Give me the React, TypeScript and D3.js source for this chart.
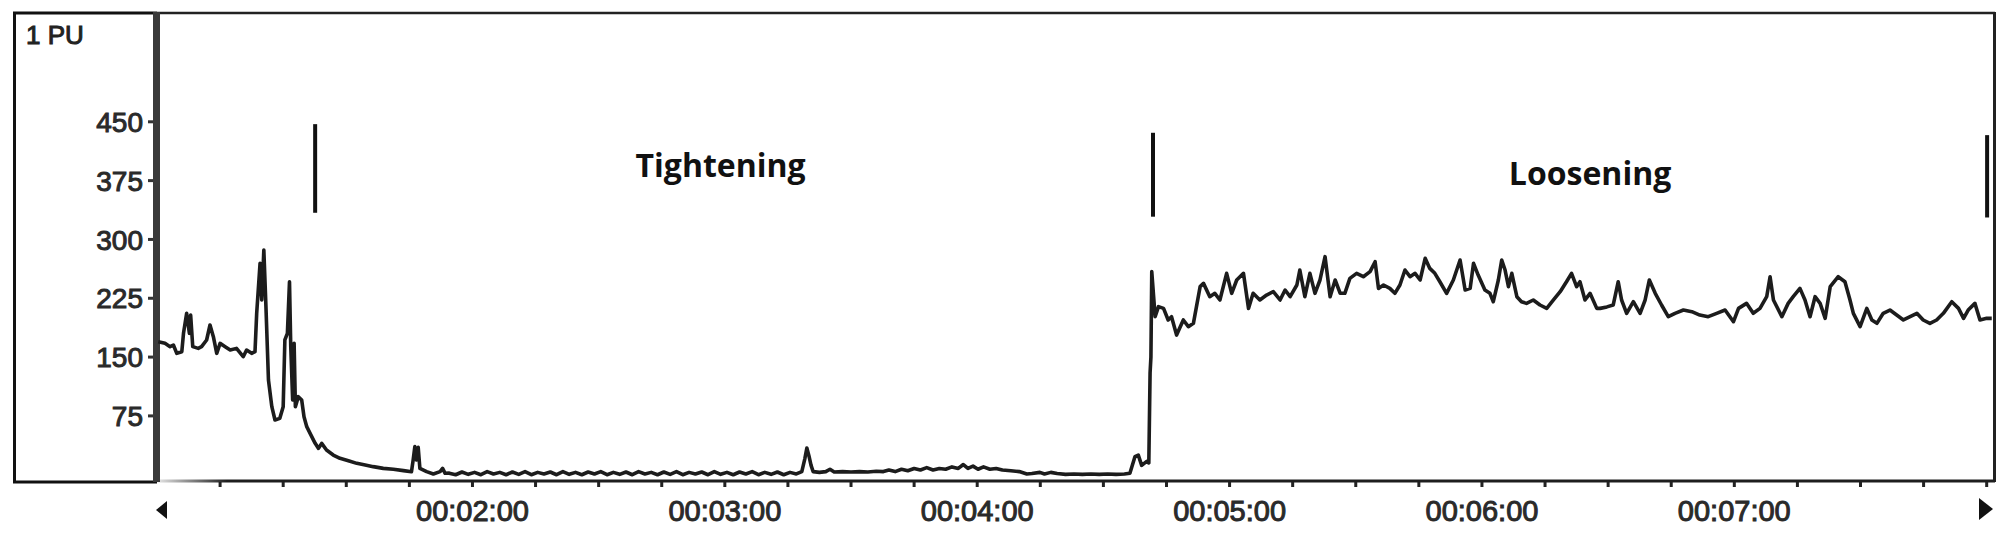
import React from 'react';
import * as d3 from 'd3';

// ---- data (time in seconds, value in PU) ----
const unitLabel = '1 PU';
const yTickValues = [75, 150, 225, 300, 375, 450];
const xLabelSeconds = [120, 180, 240, 300, 360, 420];
const xMinorTickSeconds = d3.range(60, 481, 15);

const restReadings: [number, number][] = [
  [45.3, 169.6], [46.9, 167.5], [48.1, 163.3], [48.9, 165.4], [49.7, 154.8], [50.9, 156.9],
  [51.3, 180.3], [52.05, 205.8], [52.7, 180.3], [53.0, 203.6], [53.5, 163.3], [54.8, 161.1],
  [55.6, 163.3], [56.8, 171.8], [57.6, 190.9], [58.4, 176], [59.2, 154.8], [60.0, 167.5],
  [61.2, 163.3], [62.4, 159], [63.9, 161.1], [65.5, 150.5], [66.3, 159], [67.5, 154.8],
  [68.3, 156.9], [68.7, 205.8], [69.5, 269.5], [69.9, 222.8], [70.4, 286.5], [70.9, 214.3],
  [71.5, 120.8], [72.3, 86.8], [73.05, 69.8], [74.2, 71.9], [75.0, 86.8], [75.4, 171.8],
  [76.0, 180.3], [76.5, 246.1], [76.8, 163.3], [77.25, 95.3], [77.6, 167.5], [77.9, 86.8],
  [78.6, 99.5], [79.4, 95.3], [79.95, 74], [80.6, 61.3], [81.4, 52.8], [82.6, 40],
  [83.4, 33.6], [84.15, 40], [85.3, 31.5], [86.9, 25.1], [88.5, 20.9], [90.5, 17.9],
  [92.5, 14.5], [94.5, 12.4], [96.4, 10.3], [98.8, 8.1], [101.2, 6.9], [103.6, 5.2],
  [105.5, 3.9], [105.9, 18.8], [106.3, 35.8], [106.7, 18.8], [107.1, 35], [107.5, 8.1],
  [109.1, 3.9], [110.7, 0.9], [112.3, 3.9], [112.9, 8.1], [113.5, 1.8]
];

const tighteningReadings: [number, number][] = [
  [114.5, 2], [116, 0], [117.5, 3.5], [119, 0.5], [120.5, 3], [122, 0], [123.5, 4], [125, 1],
  [126.5, 3], [128, 0], [129.5, 3.5], [131, 0.5], [132.5, 4], [134, 0], [135.5, 3], [137, 1],
  [138.5, 3.5], [140, 0], [141.5, 4], [143, 0.5], [144.5, 3], [146, 0], [147.5, 3.5], [149, 1],
  [150.5, 4], [152, 0], [153.5, 3], [155, 0.5], [156.5, 3.5], [158, 0], [159.5, 4], [161, 1],
  [162.5, 3], [164, 0], [165.5, 3.5], [167, 0.5], [168.5, 4], [170, 0], [171.5, 3], [173, 1],
  [174.5, 3.5], [176, 0], [177.5, 4], [179, 0.5], [180.5, 3], [182, 0], [183.5, 3.5], [185, 1],
  [186.5, 4], [188, 0], [189.5, 3], [191, 0.5], [192.5, 3.5], [194, 0], [195.5, 3], [197, 1],
  [198.3, 4], [199.0, 20], [199.5, 34], [200.0, 24], [200.5, 12], [201.0, 4], [202.5, 3],
  [204, 4], [205, 7], [206, 3.5], [208, 4], [210, 3.5], [212, 4], [214, 3.5], [216, 4.5],
  [217.7, 4], [219, 6], [220.5, 4], [222, 7], [223.5, 5], [225, 8], [226.5, 6], [228, 9],
  [229.5, 6], [231, 8], [232.5, 7], [234, 10], [235.5, 8], [236.7, 13], [237.8, 8], [239, 11],
  [240.2, 7], [241.5, 10], [243, 7], [244.5, 8], [246, 6], [248, 5], [250, 4], [251.8, 1],
  [253, 1.5], [254.9, 3], [256, 1], [257.5, 3], [259, 1.5], [261, 0.5], [263, 1], [265, 0.5],
  [267, 1], [269, 0.5], [271, 1], [273, 0.5], [275, 1], [276.3, 2], [277.5, 23], [278.3, 25],
  [279.1, 12], [280.3, 17], [280.8, 15], [281.1, 130], [281.3, 150], [281.5, 259]
];

const looseningReadings: [number, number][] = [
  [282.3, 201.5], [283.1, 214.3], [284.3, 212.1], [285.4, 197.3], [286.2, 201.5], [287.4, 178.1],
  [289.0, 197.3], [290.2, 188.8], [291.4, 193], [293.0, 239.8], [293.8, 244], [295.3, 227],
  [296.5, 231.3], [297.7, 222.8], [299.3, 256.8], [300.5, 231.3], [301.7, 248.3], [303.3, 256.8],
  [304.5, 212.1], [305.6, 231.3], [307.2, 222.8], [308.8, 229.1], [310.4, 233.4], [312.0, 222.8],
  [313.2, 235.5], [314.4, 227], [316.0, 241.9], [316.7, 261], [317.9, 227], [319.1, 256.8],
  [320.3, 231.3], [321.5, 248.3], [322.7, 278], [323.9, 227], [325.1, 248.3], [326.3, 231.3],
  [327.4, 231.3], [328.6, 250.4], [330.2, 256.8], [331.8, 252.5], [333.4, 258.9], [334.6, 271.6],
  [335.4, 237.6], [336.6, 241.9], [338.1, 237.6], [339.3, 231.3], [340.5, 241.9], [341.7, 261],
  [342.9, 252.5], [344.1, 256.8], [345.3, 248.3], [346.5, 275.9], [347.6, 263.1], [348.8, 256.8],
  [350.0, 246.1], [351.6, 231.3], [353.2, 248.3], [354.8, 273.8], [356.0, 235.5], [357.2, 237.6],
  [358.0, 269.5], [359.1, 254.6], [360.7, 235.5], [361.9, 231.3], [362.7, 220.6], [363.9, 248.3],
  [364.7, 273.8], [365.5, 261], [366.3, 239.8], [367.1, 256.8], [368.3, 227], [369.4, 220.6],
  [370.6, 218.5], [372.2, 222.8], [373.8, 216.4], [375.4, 212.1], [377.0, 222.8], [378.6, 233.4],
  [380.1, 246.1], [381.3, 256.8], [382.5, 239.8], [383.3, 246.1], [384.5, 222.8], [385.7, 231.3],
  [387.3, 212.1], [388.1, 212.1], [389.7, 214], [391.2, 216.4], [392.4, 246.1], [393.2, 222.8],
  [394.4, 205.8], [396.0, 220.6], [397.6, 205.8], [398.8, 222.8], [399.8, 248.3], [401.2, 231.3],
  [402.7, 216.4], [404.3, 201.5], [405.9, 205.8], [407.9, 210], [409.9, 207.9], [411.8, 203.6],
  [413.8, 201.5], [415.8, 205.8], [417.8, 210], [419.8, 195.1], [421.0, 212.1], [422.9, 218.5],
  [424.5, 205.8], [426.1, 212.1], [427.7, 227], [428.5, 252.5], [429.3, 222.8], [431.3, 201.5],
  [432.8, 218.5], [434.0, 227], [435.6, 237.6], [436.8, 222.8], [438.0, 201.5], [439.2, 227],
  [440.4, 218.5], [441.6, 199.4], [442.8, 239.8], [444.7, 252.5], [446.3, 246.1], [447.5, 222.8],
  [448.3, 205.8], [449.9, 188.8], [451.5, 212.1], [452.7, 197.3], [453.9, 193], [455.4, 205.8],
  [457.0, 210], [458.6, 203.6], [460.2, 197.3], [461.8, 201.5], [463.4, 205.8], [464.9, 197.3],
  [466.5, 193], [468.1, 197.3], [469.7, 205.8], [471.7, 220.6], [473.3, 212.1], [474.5, 199.4],
  [475.6, 210], [477.2, 218.5], [478.4, 197.3], [480.0, 199.4], [481.2, 199.4]
];

const phaseMarkers = [
  { t: 82.6, from: 334, to: 447 },
  { t: 281.8, from: 329, to: 436 },
  { t: 480.1, from: 328, to: 433 }
];
const phaseLabels = [
  { text: 'Tightening', t: 179, v: 380 },
  { text: 'Loosening', t: 385.7, v: 369 }
];

const fmtTime = (s: number) => {
  const h = Math.floor(s / 3600);
  const m = Math.floor((s % 3600) / 60);
  const sec = Math.round(s % 60);
  const p = (n: number) => String(n).padStart(2, '0');
  return `${p(h)}:${p(m)}:${p(sec)}`;
};

export default function App() {
  const W = 2008, H = 537;
  const x = d3.scaleLinear().domain([45, 481.5]).range([157, 1993]);
  const y = d3.scaleLinear().domain([-8, 590]).range([481, 12]);
  const [x0, x1] = x.range();
  const [yb, yt] = y.range();
  const series = [...restReadings, ...tighteningReadings, ...looseningReadings];
  const line = d3.line<[number, number]>().x(d => x(d[0])).y(d => y(d[1]));
  const labelFont = "'Liberation Sans', Arial, sans-serif";

  return (
    <div style={{ position: 'absolute', left: 0, top: 0 }}>
      <svg width={W} height={H} style={{ display: 'block', background: '#fff' }}>
        <defs>
          <linearGradient id="axfade" gradientUnits="userSpaceOnUse" x1={x0} x2={x0 + 70} y1={0} y2={0}>
            <stop offset="0" stopColor="#e6e6e6" />
            <stop offset="1" stopColor="#1e1e1e" />
          </linearGradient>
        </defs>
        <rect width={W} height={H} fill="#fff" />
        {/* left label box */}
        <rect x={14.5} y={yt + 1} width={x0 - 16} height={yb - yt} fill="none" stroke="#111" strokeWidth={3} />
        <text x={26} y={44} fontFamily={labelFont} fontSize={26} fill="#222" stroke="#222" strokeWidth={1}>{unitLabel}</text>
        {/* plot frame */}
        <line x1={x0} x2={x1 + 2} y1={yt + 1} y2={yt + 1} stroke="#222" strokeWidth={2.5} />
        <line x1={x1 + 1.5} x2={x1 + 1.5} y1={yt} y2={yb + 1} stroke="#222" strokeWidth={3} />
        {/* bottom axis */}
        <line x1={x0} x2={x1 + 2} y1={yb} y2={yb} stroke="url(#axfade)" strokeWidth={3} />
        {xMinorTickSeconds.map(t => (
          <line key={'xt' + t} x1={x(t)} x2={x(t)} y1={yb + 1} y2={yb + 6} stroke="#222" strokeWidth={3} />
        ))}
        {xLabelSeconds.map(t => (
          <text key={'xl' + t} x={x(t)} y={521} textAnchor="middle" fontFamily={labelFont} fontSize={29}
            fill="#2a2a2a" stroke="#2a2a2a" strokeWidth={1}>{fmtTime(t)}</text>
        ))}
        {/* scroll arrows */}
        <polygon points={`${x0 + 10},${501} ${x0 + 10},${519} ${x0 - 1},${510}`} fill="#111" />
        <polygon points={`${x1 - 14},${498} ${x1 - 14},${520} ${x1},${509}`} fill="#111" />
        {/* y axis */}
        <rect x={x0 - 4} y={yt} width={7} height={yb - yt + 1} fill="#3a3a3a" />
        {yTickValues.map(v => (
          <g key={'yt' + v}>
            <line x1={x0 - 9} x2={x0 - 4} y1={y(v)} y2={y(v)} stroke="#333" strokeWidth={3} />
            <text x={143} y={y(v)} dy="0.36em" textAnchor="end" fontFamily={labelFont} fontSize={28}
              fill="#2a2a2a" stroke="#2a2a2a" strokeWidth={1}>{v}</text>
          </g>
        ))}
        {/* signal */}
        <path d={line(series) || ''} fill="none" stroke="#1c1c1c" strokeWidth={3.6} strokeLinejoin="round" />
        {/* phase markers */}
        {phaseMarkers.map((m, i) => (
          <line key={'pm' + i} x1={x(m.t)} x2={x(m.t)} y1={y(m.to)} y2={y(m.from)} stroke="#111" strokeWidth={4} />
        ))}
        {phaseLabels.map(p => (
          <text key={p.text} x={x(p.t)} y={y(p.v)} textAnchor="middle" fontFamily="'Open Sans', sans-serif"
            fontWeight={700} fontSize={32} fill="#111">{p.text}</text>
        ))}
      </svg>
    </div>
  );
}
